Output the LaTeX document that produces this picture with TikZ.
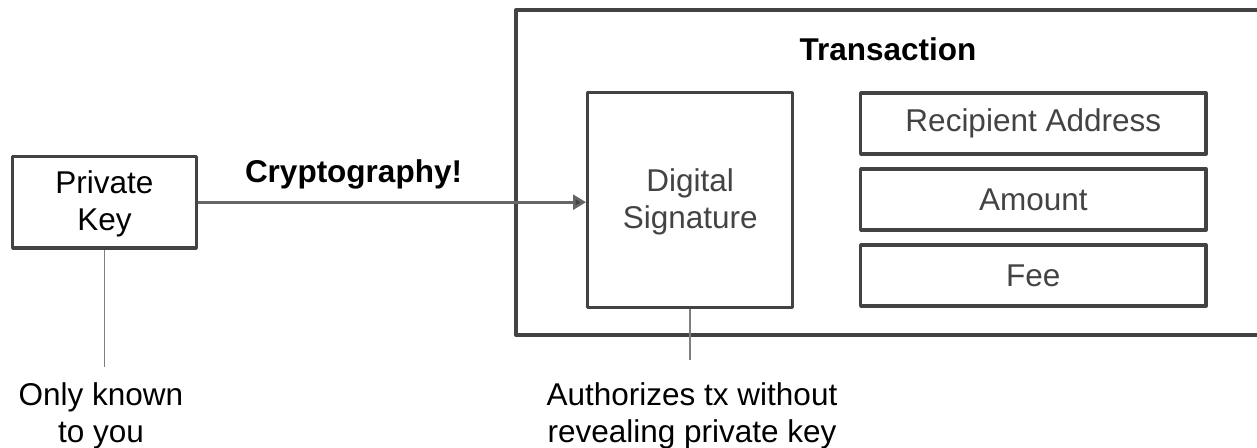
\documentclass[tikz,border=0pt]{standalone}
\usepackage{fontspec}
\setmainfont{Liberation Sans}
\usetikzlibrary{arrows.meta}

\definecolor{boxline}{HTML}{434343}
\definecolor{arrowgrey}{HTML}{666666}
\definecolor{fieldtext}{HTML}{434343}
\definecolor{leadgrey}{HTML}{7F7F7F}

\tikzset{
  label font/.style={font=\fontsize{31.5}{37}\selectfont},
  box/.style={draw=boxline, line width=3.4pt, line join=round, inner sep=0pt,
              label font, align=center},
  fieldbox/.style={box, text=fieldtext, minimum width=345.3pt, minimum height=61pt},
  heading/.style={font=\fontsize{31.5}{37}\selectfont\bfseries, inner sep=0pt},
  note/.style={label font, align=center, inner sep=0pt},
  flow/.style={draw=arrowgrey, line width=2.6pt,
               -{Triangle[length=13pt, width=15pt, fill=boxline]}},
  lead/.style={draw=leadgrey, line width=1.5pt},
}

\begin{document}
\begin{tikzpicture}[x=1pt, y=-1pt]
  \useasboundingbox (0,0) rectangle (1257,447);

  % transaction frame, running off the right edge
  \draw[draw=boxline, line width=3.4pt, line join=round]
    (1258,10) -- (516,10) -- (516,335) -- (1258,335);
  \node[heading, anchor=base] (txtitle) at (888,60.7) {Transaction};

  % private key
  \node[box, minimum width=183.6pt, minimum height=91.7pt] (pk) at (104.5,202.2) {};
  \node[label font, align=center, inner sep=0pt] (pktext) at (104.5,204) {Private\\Key};

  % digital signature and the transaction fields
  \node[box, minimum width=205pt, minimum height=215.4pt] (ds) at (690.2,200) {};
  \node[label font, text=fieldtext, align=center, inner sep=0pt] (dstext) at (690.2,202) {Digital\\Signature};
  \node[fieldbox] (recipient) at (1033.3,123.5) {Recipient Address};
  \node[fieldbox] (amount) at (1033.3,199.5) {Amount};
  \node[fieldbox] (fee) at (1033.3,275.5) {Fee};

  % signing step
  \draw[flow] (pk.east) -- (pk.east -| ds.west);
  \node[heading, anchor=base] (crypto) at (353.5,182) {Cryptography!};

  % annotations
  \coordinate (pkend) at (104.5,367);
  \coordinate (dsend) at (690.2,360);
  \draw[lead] (pk.south) -- (pkend);
  \draw[lead] (ds.south) -- (dsend);
  \node[note, anchor=base] (pknote) at (101,442) {Only known\\to you};
  \node[note, anchor=base] (dsnote) at (692,442) {Authorizes tx without\\revealing private key};
\end{tikzpicture}
\end{document}
